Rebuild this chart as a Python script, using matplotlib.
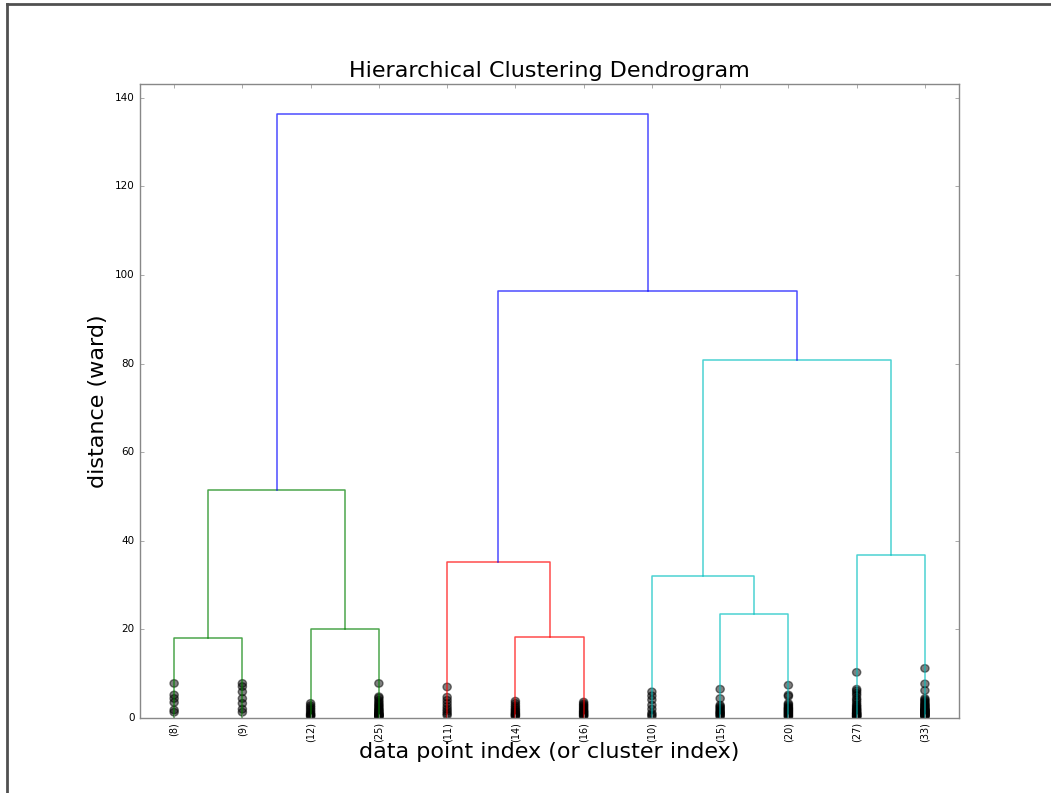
import numpy as np
import matplotlib
matplotlib.use("Agg")
import matplotlib.pyplot as plt
from matplotlib.patches import Ellipse
from matplotlib.lines import Line2D

# truncated leaves: number of samples in each contracted cluster
leaf_counts = [8, 9, 12, 25, 11, 14, 16, 10, 15, 20, 27, 33]
leaf_labels = ['({})'.format(c) for c in leaf_counts]

# merges: (left node, right node, ward distance); new nodes are numbered from 12 up
merge_left = [0, 2, 12, 5, 4, 8, 7, 10, 18, 16, 14]
merge_right = [1, 3, 13, 6, 15, 9, 17, 11, 19, 20, 21]
merge_height = [18.0, 20.1, 51.4, 18.3, 35.2, 23.4, 32.0, 36.7, 80.7, 96.3, 136.3]
merge_color = ['g', 'g', 'g', 'r', 'r', 'c', 'c', 'c', 'c', 'b', 'b']

# heights of the merges hidden inside each truncated leaf
contracted = [
    [7.8, 5.2, 4.4, 3.5, 1.8, 1.3],
    [7.8, 7.1, 5.9, 4.4, 3.3, 2.0, 1.3],
    [3.3, 2.8, 2.4, 2.0, 1.6, 1.2, 0.9, 0.7, 0.5, 0.3],
    [7.8, 4.8, 4.5, 4.0, 3.6, 3.2, 2.9, 2.6, 2.3, 2.0, 1.8, 1.6, 1.4, 1.2,
     1.0, 0.9, 0.8, 0.7, 0.6, 0.5, 0.4, 0.3, 0.2],
    [7.0, 4.7, 4.0, 3.3, 2.6, 2.0, 1.5, 1.0, 0.6],
    [3.8, 3.3, 2.8, 2.4, 2.0, 1.7, 1.4, 1.1, 0.9, 0.7, 0.5, 0.3],
    [3.6, 3.2, 2.9, 2.6, 2.3, 2.0, 1.7, 1.5, 1.3, 1.1, 0.9, 0.7, 0.5, 0.3],
    [5.9, 5.0, 4.1, 2.9, 2.0, 1.1, 0.7, 0.3],
    [6.5, 4.4, 2.9, 2.6, 2.3, 2.0, 1.7, 1.4, 1.2, 1.0, 0.8, 0.5, 0.3],
    [7.4, 5.2, 4.9, 3.3, 3.0, 2.7, 2.4, 2.2, 2.0, 1.8, 1.6, 1.4, 1.2, 1.0,
     0.8, 0.6, 0.4, 0.2],
    [10.3, 6.5, 6.1, 5.6, 5.1, 4.4, 4.0, 3.5, 3.0, 2.7, 2.4, 2.1, 1.9, 1.7,
     1.5, 1.3, 1.1, 1.0, 0.9, 0.8, 0.6, 0.5, 0.4, 0.3, 0.2],
    [11.2, 7.7, 6.2, 4.4, 4.1, 3.8, 3.5, 3.2, 3.0, 2.8, 2.6, 2.4, 2.2, 2.0,
     1.9, 1.8, 1.7, 1.6, 1.5, 1.4, 1.3, 1.2, 1.1, 1.0, 0.9, 0.8, 0.7, 0.6,
     0.5, 0.4, 0.3],
]

plt.style.use('classic')
fig = plt.figure(figsize=(10.51, 7.93), dpi=100, facecolor='white')
ax = fig.add_axes([0.1332, 0.0946, 0.7793, 0.7995])

n = len(leaf_counts)
node_x = [5.0 + 10.0 * i for i in range(n)]
node_h = [0.0] * n

for l, r, h, c in zip(merge_left, merge_right, merge_height, merge_color):
    xl, xr = node_x[l], node_x[r]
    ax.plot([xl, xl, xr, xr], [node_h[l], h, h, node_h[r]], color=c,
            linewidth=1.1, alpha=0.7)
    node_x.append((xl + xr) / 2.0)
    node_h.append(h)

# dots for the contracted merges
for i, heights in enumerate(contracted):
    for h in heights:
        e = Ellipse((node_x[i], h), width=1.2, height=1.7)
        e.set_alpha(0.5)
        e.set_facecolor('k')
        e.set_edgecolor('k')
        ax.add_artist(e)

ax.set_xlim(0, 10 * n)
ax.set_ylim(0, max(merge_height) * 1.05)
ax.set_xticks(node_x[:n])
ax.set_xticklabels(leaf_labels, rotation=90, fontsize=7)
ax.set_yticks(np.arange(0, 141, 20))
ax.tick_params(axis='y', labelsize=7.5)
ax.tick_params(axis='x', pad=3)
ax.tick_params(which='both', direction='in', length=3, color='#888888')
for s in ax.spines.values():
    s.set_color('#888888')

ax.set_title('Hierarchical Clustering Dendrogram', fontsize=16, pad=5)
ax.set_xlabel('data point index (or cluster index)', fontsize=16, labelpad=0)
ax.set_ylabel('distance (ward)', fontsize=16)

# outer frame on the left and top edges
fig.add_artist(Line2D([0.0067, 0.0067], [0.0, 0.9955], transform=fig.transFigure,
                      color='#505050', linewidth=2))
fig.add_artist(Line2D([0.0067, 1.0], [0.9955, 0.9955], transform=fig.transFigure,
                      color='#505050', linewidth=2))

fig.savefig('out.png', dpi=100, facecolor='white')
